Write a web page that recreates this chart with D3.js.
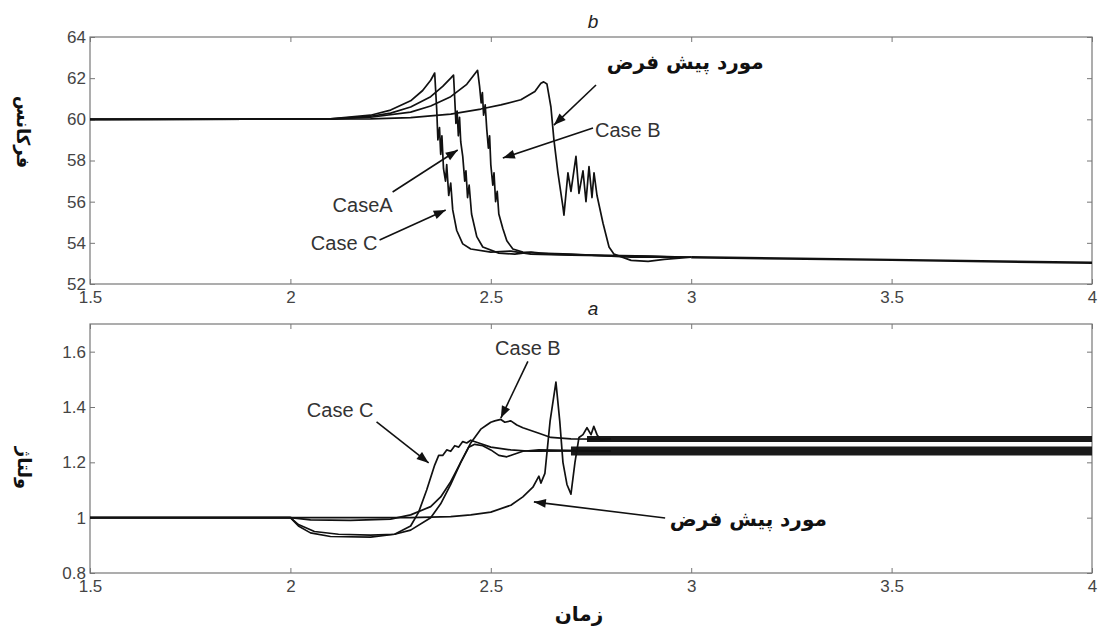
<!DOCTYPE html>
<html>
 <head>
  <meta charset="utf-8">
  <title>Frequency / Voltage</title>
  <script src="https://cdn.jsdelivr.net/npm/d3@7"></script>
  <style>
   body { margin: 0; background: #fff; }
   .tick text { font-family: "Liberation Sans", Arial, sans-serif; font-size: 17px; fill: #444; }
   .tick line { stroke: #777; }
   .lbl { font-family: "Liberation Sans", Arial, sans-serif; font-size: 20px; fill: #333; }
   .fa { font-family: "DejaVu Sans", sans-serif; font-weight: bold; fill: #111; }
  </style>
 </head>
 <body>
 <svg width="1099" height="630"></svg>
 <script>
// tick values
var timeTicks = [1.5, 2, 2.5, 3, 3.5, 4];
var freqTicks = [52, 54, 56, 58, 60, 62, 64];
var voltTicks = [0.8, 1, 1.2, 1.4, 1.6];

// frequency traces (panel b)
var freqDefault = [[1.5,60],[2.2,60.02],[2.3,60.08],[2.4,60.25],[2.475,60.5],[2.525,60.7],[2.575,60.95],[2.61,61.35],[2.625,61.75],[2.632,61.82],[2.64,61.72],
  [2.65,60.6],[2.6575,59.0],[2.6675,57.4],[2.68,55.75],[2.6825,55.35],[2.6925,57.4],[2.70,56.5],[2.7125,58.2],[2.72,56.4],[2.73,57.5],[2.7375,56.0],
  [2.745,57.7],[2.7525,56.2],[2.7575,57.4],[2.765,56.3],[2.78,54.95],[2.795,53.8],[2.8075,53.45],[2.85,53.15],[2.8925,53.1],[2.9325,53.2],[3.0,53.3]];
var freqCaseA = [[1.5,60],[2.1,60.02],[2.2,60.15],[2.25,60.3],[2.3,60.6],[2.35,61.1],[2.38,61.6],[2.4,62.0],[2.407,62.15],
  [2.41,61.0],[2.413,59.8],[2.416,60.4],[2.419,59.2],[2.422,60.1],[2.425,58.9],[2.43,58.2],[2.435,57.0],[2.438,57.5],[2.442,56.2],[2.446,56.8],
  [2.452,55.4],[2.465,54.3],[2.48,53.8],[2.52,53.5],[2.56,53.45],[2.6,53.55],[2.65,53.45],[2.75,53.4],[2.9,53.35],[3.0,53.3]];
var freqCaseB = [[1.5,60],[2.1,60.01],[2.2,60.1],[2.3,60.35],[2.35,60.65],[2.4,61.1],[2.44,61.7],[2.467,62.38],
  [2.472,61.6],[2.476,60.8],[2.479,61.3],[2.482,60.2],[2.486,60.7],[2.49,59.5],[2.494,58.6],[2.497,59.2],[2.50,57.8],[2.505,56.8],[2.508,57.4],
  [2.512,56.0],[2.516,56.5],[2.52,55.4],[2.53,54.7],[2.54,54.1],[2.555,53.7],[2.58,53.55],[2.62,53.5],[2.7,53.45],[2.85,53.3],[3.0,53.3]];
var freqCaseC = [[1.5,60],[2.1,60.02],[2.2,60.2],[2.25,60.45],[2.3,60.9],[2.33,61.4],[2.35,61.9],[2.36,62.25],
  [2.365,60.5],[2.368,59.0],[2.372,59.6],[2.375,58.3],[2.378,59.2],[2.382,57.6],[2.387,57.0],[2.39,57.8],[2.395,56.3],[2.40,56.9],[2.405,55.6],
  [2.415,54.6],[2.43,53.95],[2.45,53.7],[2.5,53.55],[2.55,53.6],[2.6,53.45],[2.7,53.4],[2.85,53.35],[3.0,53.3]];
var freqTail = [[3.0,53.3],[3.5,53.17],[4.0,53.03]];

// voltage traces (panel a)
var voltDefault = [[1.5,1],[2.3,1.0],[2.4,1.004],[2.45,1.01],[2.5,1.02],[2.55,1.045],[2.58,1.075],[2.605,1.11],[2.62,1.15],[2.625,1.125],[2.635,1.16],
  [2.648,1.35],[2.6625,1.49],[2.672,1.35],[2.68,1.2],[2.69,1.12],[2.7,1.085],[2.71,1.2],[2.72,1.29],[2.73,1.3],[2.74,1.325],[2.75,1.3],[2.757,1.33],
  [2.765,1.3],[2.775,1.28],[2.8,1.284]];
var voltCaseA = [[1.5,1],[2.0,1.0],[2.02,0.975],[2.06,0.95],[2.12,0.94],[2.2,0.937],[2.26,0.94],[2.3,0.955],[2.35,1.0],[2.375,1.05],[2.4,1.12],
  [2.425,1.2],[2.445,1.255],[2.46,1.265],[2.48,1.26],[2.5,1.245],[2.52,1.225],[2.54,1.22],[2.56,1.23],[2.58,1.24],[2.62,1.245],[2.8,1.241]];
var voltCaseB = [[1.5,1],[2.0,1.0],[2.05,0.992],[2.15,0.99],[2.25,0.995],[2.3,1.01],[2.35,1.04],[2.375,1.075],[2.4,1.13],[2.425,1.2],[2.45,1.27],
  [2.475,1.32],[2.49,1.335],[2.5,1.345],[2.51,1.35],[2.525,1.355],[2.535,1.345],[2.55,1.35],[2.565,1.335],[2.58,1.325],[2.6,1.315],[2.62,1.305],
  [2.65,1.29],[2.7,1.285],[2.8,1.284]];
var voltCaseC = [[1.5,1],[2.0,1.0],[2.02,0.97],[2.05,0.945],[2.1,0.932],[2.2,0.93],[2.26,0.94],[2.3,0.97],[2.32,1.02],[2.34,1.1],[2.36,1.19],
  [2.37,1.225],[2.38,1.225],[2.39,1.245],[2.4,1.24],[2.41,1.26],[2.42,1.255],[2.43,1.275],[2.44,1.27],[2.45,1.28],[2.47,1.27],[2.5,1.255],
  [2.55,1.245],[2.6,1.24],[2.8,1.241]];
// steady oscillating bands after the transient
var voltBandUpper = [[2.74,1.284],[4,1.284]];
var voltBandLower = [[2.7,1.241],[4,1.241]];

// annotations: [text, textT, textV, anchor, fromT, fromV, toT, toV]
var freqNotes = [
  ["مورد پیش فرض", 2.985, 62.79, "middle", 2.7625, 61.67, 2.6575, 59.72],
  ["Case B", 2.76, 59.48, "start", 2.755, 59.58, 2.53, 58.12],
  ["CaseA", 2.255, 55.84, "end", 2.255, 56.47, 2.4175, 58.51],
  ["Case C", 2.2175, 53.99, "end", 2.2225, 54.14, 2.3875, 55.6]
];
var voltNotes = [
  ["Case B", 2.5925, 1.613, "middle", 2.5925, 1.565, 2.525, 1.36],
  ["Case C", 2.2075, 1.389, "end", 2.215, 1.346, 2.345, 1.198],
  ["مورد پیش فرض", 3.1425, 0.995, "middle", 2.935, 0.999, 2.6075, 1.057]
];

var svg = d3.select("svg");
var left = 90, right = 1092;

svg.append("defs").append("marker")
  .attr("id", "arrow")
  .attr("markerUnits", "userSpaceOnUse")
  .attr("viewBox", "0 -5 12 10")
  .attr("refX", 12).attr("refY", 0)
  .attr("markerWidth", 13).attr("markerHeight", 10)
  .attr("orient", "auto")
  .append("path").attr("d", "M0,-4.5L12,0L0,4.5Z").attr("fill", "#111");

var x = d3.scaleLinear().domain([1.5, 4]).range([left, right]);

function panel(top, bottom, ydomain, yticks, series, bands, tail, notes, title) {
  var y = d3.scaleLinear().domain(ydomain).range([bottom, top]);
  var g = svg.append("g");
  var fmt = function(d){ return +d.toFixed(1) + ""; };

  g.append("g").attr("transform", "translate(0," + bottom + ")")
    .call(d3.axisBottom(x).tickValues(timeTicks).tickFormat(fmt).tickSizeInner(-5).tickSizeOuter(0).tickPadding(7));
  g.append("g").attr("transform", "translate(0," + top + ")")
    .call(d3.axisTop(x).tickValues(timeTicks).tickFormat("").tickSizeInner(-5).tickSizeOuter(0));
  g.append("g").attr("transform", "translate(" + left + ",0)")
    .call(d3.axisLeft(y).tickValues(yticks).tickFormat(fmt).tickSizeInner(-5).tickSizeOuter(0).tickPadding(4));
  g.append("g").attr("transform", "translate(" + right + ",0)")
    .call(d3.axisRight(y).tickValues(yticks).tickFormat("").tickSizeInner(-5).tickSizeOuter(0));
  g.selectAll(".domain").remove();

  g.append("rect").attr("x", left).attr("y", top)
    .attr("width", right - left).attr("height", bottom - top)
    .attr("fill", "none").attr("stroke", "#777").attr("stroke-width", 1.2);

  var line = d3.line().x(function(d){ return x(d[0]); }).y(function(d){ return y(d[1]); });

  bands.forEach(function(b){
    g.append("path").datum(b[0]).attr("d", line)
      .attr("fill", "none").attr("stroke", "#1a1a1a").attr("stroke-width", b[1]);
  });
  if (tail) {
    g.append("path").datum(tail).attr("d", line)
      .attr("fill", "none").attr("stroke", "#111").attr("stroke-width", 2.4);
  }
  g.selectAll(".trace").data(series).enter().append("path")
    .attr("class", "trace")
    .attr("d", line)
    .attr("fill", "none").attr("stroke", "#111")
    .attr("stroke-width", 1.7).attr("stroke-linejoin", "round");

  notes.forEach(function(n){
    g.append("line")
      .attr("x1", x(n[4])).attr("y1", y(n[5]))
      .attr("x2", x(n[6])).attr("y2", y(n[7]))
      .attr("stroke", "#111").attr("stroke-width", 1.6)
      .attr("marker-end", "url(#arrow)");
    var isFa = /[\u0600-\u06FF]/.test(n[0]);
    g.append("text")
      .attr("class", isFa ? "fa" : "lbl")
      .attr("x", x(n[1])).attr("y", y(n[2]))
      .attr("dy", "0.35em")
      .attr("text-anchor", n[3])
      .style("font-size", isFa ? "20px" : null)
      .text(n[0]);
  });

  svg.append("text").attr("x", 593).attr("y", top - 9)
    .attr("text-anchor", "middle")
    .style("font-family", "Liberation Sans, Arial, sans-serif")
    .style("font-style", "italic").style("font-size", "19px").attr("fill", "#222")
    .text(title);
  return y;
}

panel(37, 284, [52, 64], freqTicks, [freqDefault, freqCaseA, freqCaseB, freqCaseC], [], freqTail, freqNotes, "b");
panel(324, 573, [0.8, 1.7], voltTicks, [voltDefault, voltCaseA, voltCaseB, voltCaseC],
  [[voltBandUpper, 6], [voltBandLower, 9]], null, voltNotes, "a");

// axis titles
svg.append("text").attr("class", "fa")
  .attr("transform", "translate(23,132) rotate(90)")
  .attr("text-anchor", "middle").attr("dy", "0.35em")
  .style("font-size", "18px").text("فرکانس");
svg.append("text").attr("class", "fa")
  .attr("transform", "translate(24,468) rotate(90)")
  .attr("text-anchor", "middle").attr("dy", "0.35em")
  .style("font-size", "18px").text("ولتاژ");
svg.append("text").attr("class", "fa")
  .attr("x", 579).attr("y", 614).attr("dy", "0.35em")
  .attr("text-anchor", "middle")
  .style("font-size", "20px").text("زمان");
 </script>
 </body>
</html>
